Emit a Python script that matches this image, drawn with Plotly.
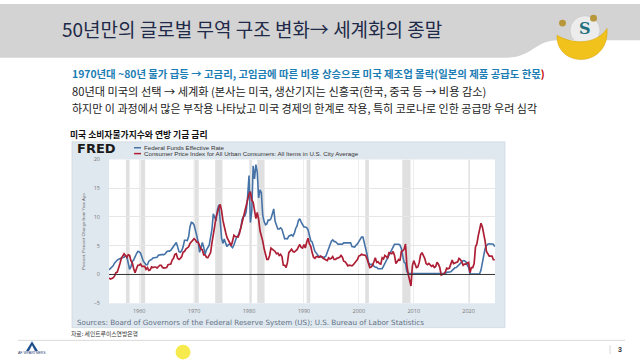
import plotly.graph_objects as go
import pandas as pd

W, H = 640, 360

# ---------------- data (quarterly, starting 1954 Q3) ----------------
start_date = "1954-07-01"

fed_funds = [
    0.80, 1.00,
    1.35, 1.50, 1.95, 2.35,   # 1955
    2.50, 2.65, 2.80, 2.95,
    2.95, 3.00, 3.25, 3.05,
    1.85, 0.90, 1.35, 2.25,
    2.55, 3.20, 3.60, 4.00,
    3.95, 3.70, 2.95, 2.30,   # 1960
    2.00, 1.70, 1.70, 2.30,
    2.50, 2.60, 2.85, 2.90,
    2.90, 3.00, 3.35, 3.45,
    3.45, 3.45, 3.45, 3.60,
    3.95, 4.05, 4.05, 4.20,   # 1965
    4.60, 4.90, 5.40, 5.55,
    4.80, 3.95, 3.85, 4.15,
    4.80, 5.95, 5.95, 5.90,
    6.60, 8.30, 9.05, 8.95,
    8.60, 7.85, 6.70, 5.55,   # 1970
    3.85, 4.55, 5.55, 4.75,
    3.50, 4.30, 4.75, 5.10,
    6.50, 7.85, 10.55, 10.00,
    9.30, 11.25, 12.10, 9.35,
    6.30, 5.40, 6.15, 5.40,   # 1975
    4.85, 5.20, 5.30, 4.90,
    4.65, 5.15, 5.80, 6.50,
    6.75, 7.30, 8.10, 9.60,
    10.10, 10.20, 10.95, 13.60,
    17.19, 9.03, 10.90, 18.90,  # 1980
    16.60, 19.10, 17.80, 13.30,
    14.70, 14.20, 10.30, 9.20,
    8.65, 8.80, 9.45, 9.45,
    9.70, 10.55, 11.40, 9.25,
    8.50, 7.90, 7.90, 8.10,   # 1985
    7.85, 6.90, 6.20, 6.25,
    6.20, 6.65, 6.85, 6.90,
    6.65, 7.15, 8.00, 8.45,
    9.40, 9.70, 9.10, 8.60,
    8.25, 8.25, 8.15, 7.75,   # 1990
    6.45, 5.85, 5.65, 4.80,
    4.00, 3.75, 3.25, 3.05,
    3.05, 3.00, 3.05, 3.00,
    3.20, 3.95, 4.45, 5.15,
    5.80, 6.00, 5.75, 5.70,   # 1995
    5.40, 5.25, 5.30, 5.30,
    5.25, 5.50, 5.55, 5.50,
    5.50, 5.50, 5.50, 4.85,
    4.75, 4.75, 5.10, 5.30,
    5.70, 6.25, 6.50, 6.50,   # 2000
    5.60, 4.35, 3.50, 2.15,
    1.70, 1.75, 1.75, 1.45,
    1.25, 1.25, 1.00, 1.00,
    1.00, 1.00, 1.45, 1.95,
    2.45, 2.95, 3.45, 3.95,   # 2005
    4.45, 4.90, 5.25, 5.25,
    5.25, 5.25, 5.10, 4.50,
    3.20, 2.10, 1.95, 0.50,
    0.20, 0.20, 0.15, 0.12,
    0.13, 0.19, 0.19, 0.19,   # 2010
    0.15, 0.09, 0.08, 0.07,
    0.11, 0.15, 0.14, 0.16,
    0.14, 0.12, 0.09, 0.09,
    0.07, 0.09, 0.09, 0.10,
    0.11, 0.12, 0.13, 0.16,   # 2015
    0.36, 0.37, 0.40, 0.45,
    0.70, 0.95, 1.15, 1.20,
    1.45, 1.75, 1.92, 2.22,
    2.40, 2.38, 2.19, 1.64,
    1.26, 0.06, 0.09, 0.09,   # 2020
    0.08, 0.07, 0.09, 0.08,
    0.12, 0.77, 2.19, 3.65,
    4.52, 4.99, 5.26, 5.33,
    5.33, 5.33, 5.26, 4.83,
]

cpi_yoy = [
    -0.6, -0.8,
    -0.7, -0.6, -0.3, 0.3,    # 1955
    0.4, 1.0, 1.9, 2.8,
    3.3, 3.6, 3.3, 3.0,
    3.4, 3.3, 2.4, 2.0,
    1.0, 0.3, 1.0, 1.6,
    1.6, 1.8, 1.4, 1.4,       # 1960
    1.4, 0.9, 1.2, 0.7,
    0.8, 1.3, 1.2, 1.3,
    1.3, 1.1, 1.4, 1.6,
    1.6, 1.2, 1.1, 1.1,
    1.2, 1.7, 1.8, 1.8,       # 1965
    2.5, 2.8, 3.5, 3.6,
    2.8, 2.6, 2.8, 3.1,
    3.9, 4.0, 4.4, 4.7,
    4.8, 5.4, 5.7, 5.8,
    6.2, 6.0, 5.6, 5.6,       # 1970
    4.9, 4.4, 4.3, 3.4,
    3.4, 3.0, 2.9, 3.3,
    3.8, 5.5, 7.4, 8.4,
    10.0, 10.9, 11.6, 12.2,
    11.1, 9.4, 8.1, 7.3,      # 1975
    6.4, 5.9, 5.5, 5.0,
    5.8, 6.8, 6.6, 6.6,
    6.5, 7.1, 8.1, 8.9,
    9.8, 10.7, 11.7, 12.7,
    14.0, 14.4, 12.9, 12.6,   # 1980
    11.1, 9.7, 10.8, 9.6,
    7.6, 6.8, 5.8, 4.5,
    3.6, 2.6, 2.6, 3.3,
    4.6, 4.3, 4.2, 4.0,
    3.6, 3.7, 3.3, 3.5,       # 1985
    3.1, 1.6, 1.6, 1.2,
    2.1, 3.8, 4.2, 4.4,
    4.0, 3.9, 4.1, 4.3,
    4.8, 5.2, 4.7, 4.6,
    5.2, 4.6, 5.6, 6.3,       # 1990
    5.3, 4.9, 3.8, 3.0,
    2.8, 3.1, 3.1, 3.0,
    3.2, 3.1, 2.8, 2.7,
    2.5, 2.4, 2.9, 2.7,
    2.8, 3.1, 2.6, 2.6,       # 1995
    2.8, 2.9, 3.0, 3.3,
    3.0, 2.3, 2.2, 1.9,
    1.5, 1.6, 1.6, 1.5,
    1.7, 2.1, 2.3, 2.6,
    3.2, 3.3, 3.5, 3.4,       # 2000
    3.4, 3.3, 2.7, 1.9,
    1.2, 1.3, 1.6, 2.2,
    2.9, 2.1, 2.2, 1.9,
    1.8, 2.9, 2.7, 3.3,
    3.0, 2.9, 3.8, 3.7,       # 2005
    3.6, 4.0, 3.3, 1.9,
    2.4, 2.6, 2.4, 4.0,
    4.1, 4.4, 5.3, 1.6,
    0.0, -1.0, -2.0, 1.5,
    2.4, 1.8, 1.2, 1.3,       # 2010
    2.1, 3.4, 3.8, 3.3,
    2.8, 1.9, 1.7, 1.9,
    1.7, 1.4, 1.6, 1.2,
    1.4, 2.1, 1.8, 1.2,
    -0.1, 0.0, 0.1, 0.4,      # 2015
    1.1, 1.0, 1.1, 1.8,
    2.5, 1.9, 2.0, 2.1,
    2.2, 2.8, 2.6, 2.2,
    1.6, 1.8, 1.8, 2.0,
    2.1, 0.3, 1.2, 1.2,       # 2020
    1.9, 4.8, 5.3, 6.7,
    8.0, 8.9, 8.3, 7.1,
    5.8, 4.0, 3.6, 3.2,
    3.2, 3.2, 2.6, 2.5,
]

recession_start = ["1957-08-01", "1960-04-01", "1969-12-01", "1973-11-01", "1980-01-01",
                   "1981-07-01", "1990-07-01", "2001-03-01", "2007-12-01", "2020-02-01"]
recession_end = ["1958-04-01", "1961-02-01", "1970-11-01", "1975-03-01", "1980-07-01",
                 "1982-11-01", "1991-03-01", "2001-11-01", "2009-06-01", "2020-04-01"]

x_tick_years = [1960, 1970, 1980, 1990, 2000, 2010, 2020]
y_ticks = [-5, 0, 5, 10, 15, 20]

series_names = ["Federal Funds Effective Rate",
                "Consumer Price Index for All Urban Consumers: All Items in U.S. City Average"]

dates = pd.date_range(start_date, periods=len(fed_funds), freq="QS")

# ---------------- helpers ----------------
def px(x):
    return x / W

def py(y):
    return 1 - y / H

BLUE = "#4572a7"
RED = "#ad1f35"
KR = "Noto Sans CJK KR"

fig = go.Figure()
fig.add_trace(go.Scatter(x=dates, y=fed_funds, mode="lines", name=series_names[0],
                         line=dict(color=BLUE, width=1.6)))
fig.add_trace(go.Scatter(x=dates, y=cpi_yoy, mode="lines", name=series_names[1],
                         line=dict(color=RED, width=1.7)))

shapes = []
# header band
hp = (f"M0,{py(0)} L1,{py(0)} L1,{py(37)} L{px(558)},{py(37)} "
      f"C{px(535)},{py(37)} {px(532)},{py(55)} {px(505)},{py(55)} L0,{py(55)} Z")
shapes.append(dict(type="path", path=hp, xref="paper", yref="paper",
                   fillcolor="#d3d3d3", line=dict(width=0), layer="below"))
# FRED panel
shapes.append(dict(type="rect", xref="paper", yref="paper", x0=px(72), x1=px(505),
                   y0=py(331), y1=py(141), fillcolor="#e0e8ef",
                   line=dict(color="#c8d2dc", width=0.6), layer="below"))
# white plot area
shapes.append(dict(type="rect", xref="paper", yref="paper", x0=px(109), x1=px(495),
                   y0=py(306), y1=py(159), fillcolor="#ffffff",
                   line=dict(width=0), layer="below"))
# recessions
for s, e in zip(recession_start, recession_end):
    shapes.append(dict(type="rect", xref="x", yref="y", x0=s, x1=e, y0=-5, y1=20,
                       fillcolor="#e0e0e0", line=dict(width=0), layer="below"))
# zero line
shapes.append(dict(type="line", xref="x domain", yref="y", x0=0, x1=1, y0=0, y1=0,
                   line=dict(color="#333333", width=1)))
# legend lines
shapes.append(dict(type="line", xref="paper", yref="paper", x0=px(134), x1=px(141),
                   y0=py(147), y1=py(147), line=dict(color=BLUE, width=1.5)))
shapes.append(dict(type="line", xref="paper", yref="paper", x0=px(134), x1=px(141),
                   y0=py(153), y1=py(153), line=dict(color=RED, width=1.5)))
# separator line at bottom
shapes.append(dict(type="line", xref="paper", yref="paper", x0=px(18), x1=px(625),
                   y0=py(344), y1=py(344), line=dict(color="#d0d0d0", width=0.8)))
shapes.append(dict(type="line", xref="paper", yref="paper", x0=px(610), x1=px(610),
                   y0=py(349), y1=py(358), line=dict(color="#cccccc", width=0.8)))
# bottom-left logo triangle
lp = (f"M{px(26)},{py(355)} L{px(32)},{py(345)} L{px(38)},{py(355)} "
      f"L{px(35)},{py(355)} L{px(32)},{py(349)} L{px(29)},{py(355)} Z")
shapes.append(dict(type="path", path=lp, xref="paper", yref="paper",
                   fillcolor="#1f4e8c", line=dict(width=0)))
# top-right mascot logo
shapes.append(dict(type="circle", xref="paper", yref="paper", x0=px(570), x1=px(600),
                   y0=py(42), y1=py(12), fillcolor="#ececec", line=dict(color="#bbbbbb", width=0.5)))
bowl = (f"M{px(557)},{py(32)} C{px(556)},{py(66)} {px(610)},{py(66)} {px(607)},{py(25)} "
        f"C{px(598)},{py(40)} {px(575)},{py(43)} {px(557)},{py(32)} Z")
shapes.append(dict(type="path", path=bowl, xref="paper", yref="paper",
                   fillcolor="#f1c21b", line=dict(color="#d9a80f", width=0.6)))
shapes.append(dict(type="circle", xref="paper", yref="paper", x0=px(559), x1=px(566),
                   y0=py(23), y1=py(16), fillcolor="#b8963a", line=dict(width=0)))
shapes.append(dict(type="circle", xref="paper", yref="paper", x0=px(590), x1=px(597),
                   y0=py(18), y1=py(11), fillcolor="#b8963a", line=dict(width=0)))
# yellow cursor highlight
shapes.append(dict(type="circle", xref="paper", yref="paper", x0=px(175.5), x1=px(190.5),
                   y0=py(363.5), y1=py(348.5), fillcolor="#f6e83a", opacity=0.9,
                   line=dict(width=0)))

ann = []
def text(x, y, t, size, color="#222", family=KR, anchor="left", weight=None, angle=0):
    f = dict(size=size, color=color, family=family)
    if weight:
        f["weight"] = weight
    ann.append(dict(x=px(x), y=py(y), xref="paper", yref="paper", text=t, showarrow=False,
                    xanchor=anchor, yanchor="middle", font=f, textangle=angle))

text(60, 25, "50년만의 글로벌 무역 구조 변화→ 세계화의 종말", 19, "#1e2a48")
text(70, 71, "1970년대 ~80년 물가 급등 → 고금리, 고임금에 따른 비용 상승으로 미국 제조업 몰락(일본의 제품 공급도 한몫"
     "<span style='color:#c00000'>)</span>", 10.4, "#1b7db3", weight="bold")
text(70, 89, "80년대 미국의 선택 → 세계화 (본사는 미국, 생산기지는 신흥국(한국, 중국 등 → 비용 감소)", 11.2, "#222222")
text(70, 106, "하지만 이 과정에서 많은 부작용 나타났고 미국 경제의 한계로 작용, 특히 코로나로 인한 공급망 우려 심각", 11, "#222222")
text(68, 133, "미국 소비자물가지수와 연방 기금 금리", 8.8, "#111111", weight="bold")
text(75, 148, "<b>FRED</b>", 13, "#1a1a1a", family="DejaVu Sans")
text(142, 147, series_names[0], 6.2, "#333333", family="Liberation Sans")
text(142, 153, series_names[1], 6.2, "#333333", family="Liberation Sans")
text(84, 233, "Percent, Percent Change from Year Ago", 4.3, "#666666", family="Liberation Sans",
     anchor="center", angle=-90)
text(75, 326, "Sources: Board of Governors of the Federal Reserve System (US); U.S. Bureau of Labor Statistics",
     7.2, "#5f7185", family="DejaVu Sans")
text(69, 337, "자료: 세인트루이스연방은행", 5.8, "#333333")
text(32, 357, "AF WPARTNERS", 3.5, "#1f3c6e", family="Liberation Sans", anchor="center")
text(620, 353, "<b>3</b>", 7, "#333333", family="Liberation Sans", anchor="center")
text(585, 25, "<b>S</b>", 16, "#1f6f7f", family="DejaVu Serif", anchor="center")

fig.update_layout(
    width=W, height=H, margin=dict(l=0, r=0, t=0, b=0),
    paper_bgcolor="#ffffff", plot_bgcolor="rgba(0,0,0,0)",
    showlegend=False, shapes=shapes, annotations=ann,
    xaxis=dict(type="date", domain=[px(109), px(495)],
               range=["1954-07-01", "2024-10-20"],
               tickvals=[f"{y}-01-01" for y in x_tick_years],
               ticktext=[str(y) for y in x_tick_years],
               showgrid=True, gridcolor="#ededed", gridwidth=0.6,
               ticks="", showline=False, zeroline=False,
               tickfont=dict(size=5.5, color="#777777", family="Open Sans"),
               ticklabelstandoff=3),
    yaxis=dict(domain=[py(306), py(159)], range=[-5, 20], tickvals=y_ticks,
               showgrid=True, gridcolor="#e6e6e6", gridwidth=0.6,
               ticks="", showline=False, zeroline=False,
               tickfont=dict(size=5.5, color="#777777", family="Open Sans"),
               ticklabelstandoff=8),
)

fig.write_html("out.html", config={"displayModeBar": False},
               post_script="document.body.style.margin='0';")
